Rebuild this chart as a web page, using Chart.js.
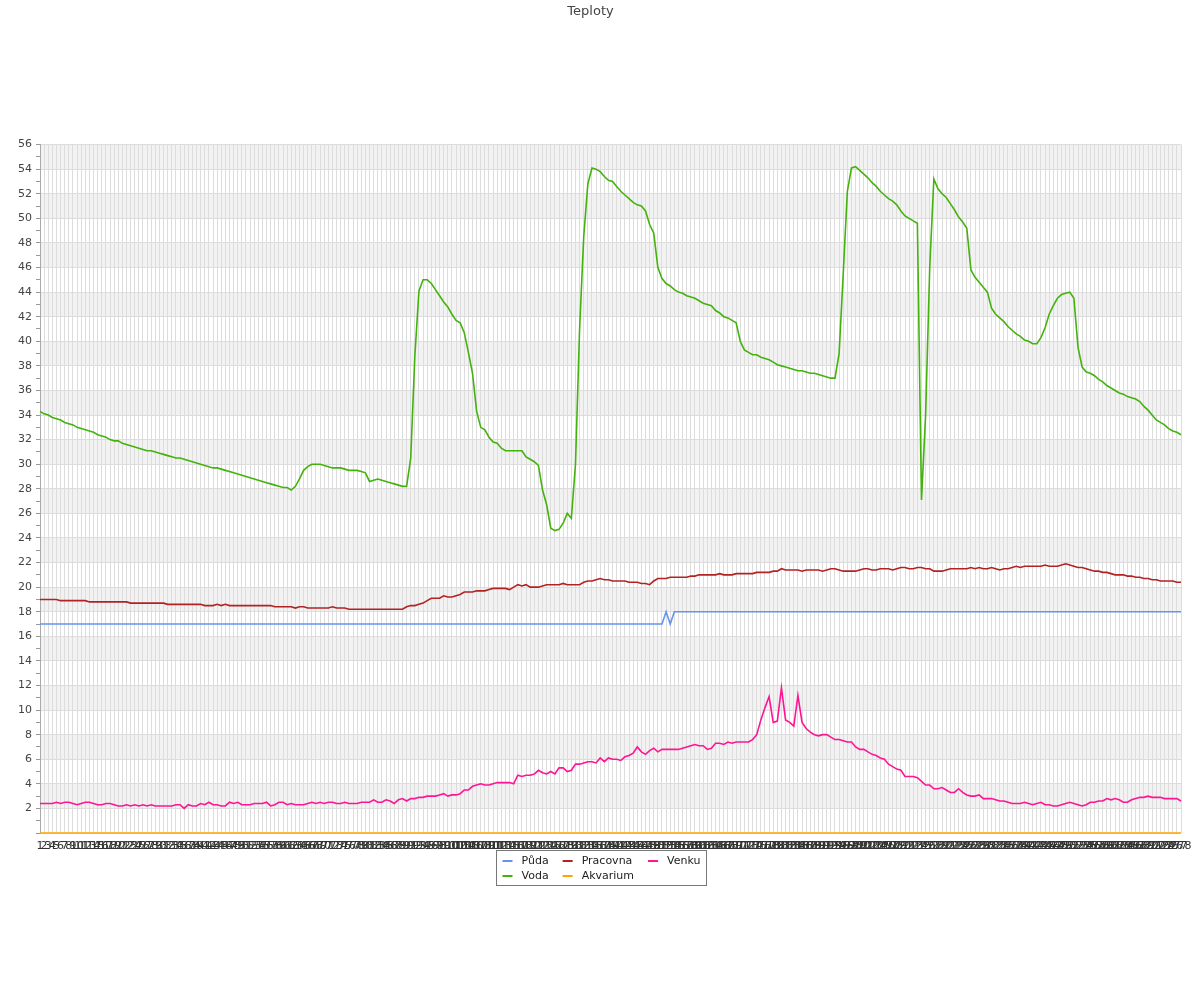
<!DOCTYPE html>
<html><head><meta charset="utf-8">
<script src="https://cdn.jsdelivr.net/npm/chart.js@4.4.1/dist/chart.umd.min.js"></script>
<style>html,body{margin:0;padding:0;background:#fff}#wrap{width:1200px;height:1000px;position:relative}</style>
</head><body><div id="wrap"><canvas id="c"></canvas></div>
<script>
const labels = [
1,2,3,4,5,6,7,8,9,10,11,12,13,14,15,16,17,18,19,20,
21,22,23,24,25,26,27,28,29,30,31,32,33,34,35,36,37,38,39,40,
41,42,43,44,45,46,47,48,49,50,51,52,53,54,55,56,57,58,59,60,
61,62,63,64,65,66,67,68,69,70,71,72,73,74,75,76,77,78,79,80,
81,82,83,84,85,86,87,88,89,90,91,92,93,94,95,96,97,98,99,100,
101,102,103,104,105,106,107,108,109,110,111,112,113,114,115,116,117,118,119,120,
121,122,123,124,125,126,127,128,129,130,131,132,133,134,135,136,137,138,139,140,
141,142,143,144,145,146,147,148,149,150,151,152,153,154,155,156,157,158,159,160,
161,162,163,164,165,166,167,168,169,170,171,172,173,174,175,176,177,178,179,180,
181,182,183,184,185,186,187,188,189,190,191,192,193,194,195,196,197,198,199,200,
201,202,203,204,205,206,207,208,209,210,211,212,213,214,215,216,217,218,219,220,
221,222,223,224,225,226,227,228,229,230,231,232,233,234,235,236,237,238,239,240,
241,242,243,244,245,246,247,248,249,250,251,252,253,254,255,256,257,258,259,260,
261,262,263,264,265,266,267,268,269,270,271,272,273,274,275,276,277,278];

const puda = [
17,17,17,17,17,17,17,17,17,17,17,17,17,17,17,17,17,17,17,17,
17,17,17,17,17,17,17,17,17,17,17,17,17,17,17,17,17,17,17,17,
17,17,17,17,17,17,17,17,17,17,17,17,17,17,17,17,17,17,17,17,
17,17,17,17,17,17,17,17,17,17,17,17,17,17,17,17,17,17,17,17,
17,17,17,17,17,17,17,17,17,17,17,17,17,17,17,17,17,17,17,17,
17,17,17,17,17,17,17,17,17,17,17,17,17,17,17,17,17,17,17,17,
17,17,17,17,17,17,17,17,17,17,17,17,17,17,17,17,17,17,17,17,
17,17,17,17,17,17,17,17,17,17,17,17,18,17,18,18,18,18,18,18,
18,18,18,18,18,18,18,18,18,18,18,18,18,18,18,18,18,18,18,18,
18,18,18,18,18,18,18,18,18,18,18,18,18,18,18,18,18,18,18,18,
18,18,18,18,18,18,18,18,18,18,18,18,18,18,18,18,18,18,18,18,
18,18,18,18,18,18,18,18,18,18,18,18,18,18,18,18,18,18,18,18,
18,18,18,18,18,18,18,18,18,18,18,18,18,18,18,18,18,18,18,18,
18,18,18,18,18,18,18,18,18,18,18,18,18,18,18,18,18,18];

const voda = [
34.3,34.1,34.0,33.8,33.7,33.6,33.4,33.3,33.2,33.0,
32.9,32.8,32.7,32.6,32.4,32.3,32.2,32.0,31.9,31.9,
31.7,31.6,31.5,31.4,31.3,31.2,31.1,31.1,31.0,30.9,
30.8,30.7,30.6,30.5,30.5,30.4,30.3,30.2,30.1,30.0,
29.9,29.8,29.7,29.7,29.6,29.5,29.4,29.3,29.2,29.1,
29.0,28.9,28.8,28.7,28.6,28.5,28.4,28.3,28.2,28.1,
28.1,27.9,28.2,28.8,29.5,29.8,30.0,30.0,30.0,29.9,
29.8,29.7,29.7,29.7,29.6,29.5,29.5,29.5,29.4,29.3,
28.6,28.7,28.8,28.7,28.6,28.5,28.4,28.3,28.2,28.2,
30.5,38.8,44.1,45.0,45.0,44.7,44.2,43.7,43.2,42.8,
42.2,41.7,41.5,40.7,39.1,37.4,34.3,33.0,32.8,32.2,
31.8,31.7,31.3,31.1,31.1,31.1,31.1,31.1,30.6,30.4,
30.2,29.9,27.9,26.7,24.8,24.6,24.7,25.2,26.0,25.6,
30.0,41.0,48.5,52.8,54.1,54.0,53.8,53.4,53.1,53.0,
52.6,52.2,51.9,51.6,51.3,51.1,51.0,50.6,49.5,48.8,
46.0,45.1,44.7,44.5,44.2,44.0,43.9,43.7,43.6,43.5,
43.3,43.1,43.0,42.9,42.5,42.3,42.0,41.9,41.7,41.5,
40.0,39.3,39.1,38.9,38.9,38.7,38.6,38.5,38.3,38.1,
38.0,37.9,37.8,37.7,37.6,37.6,37.5,37.4,37.4,37.3,
37.2,37.1,37.0,37.0,39.0,45.5,52.2,54.1,54.2,53.9,
53.6,53.3,52.9,52.6,52.2,51.9,51.6,51.4,51.1,50.6,
50.2,50.0,49.8,49.6,27.1,34.0,46.0,53.2,52.4,52.0,
51.7,51.2,50.7,50.1,49.7,49.2,45.8,45.2,44.8,44.4,
44.0,42.7,42.2,41.9,41.6,41.2,40.9,40.6,40.4,40.1,
40.0,39.8,39.8,40.3,41.1,42.2,42.9,43.5,43.8,43.9,
44.0,43.5,39.5,37.9,37.5,37.4,37.2,36.9,36.7,36.4,
36.2,36.0,35.8,35.7,35.5,35.4,35.3,35.1,34.7,34.4,
34.0,33.6,33.4,33.2,32.9,32.7,32.6,32.4];

const pracovna = [
19.0,19.0,19.0,19.0,19.0,18.9,18.9,18.9,18.9,18.9,
18.9,18.9,18.8,18.8,18.8,18.8,18.8,18.8,18.8,18.8,
18.8,18.8,18.7,18.7,18.7,18.7,18.7,18.7,18.7,18.7,
18.7,18.6,18.6,18.6,18.6,18.6,18.6,18.6,18.6,18.6,
18.5,18.5,18.5,18.6,18.5,18.6,18.5,18.5,18.5,18.5,
18.5,18.5,18.5,18.5,18.5,18.5,18.5,18.4,18.4,18.4,
18.4,18.4,18.3,18.4,18.4,18.3,18.3,18.3,18.3,18.3,
18.3,18.4,18.3,18.3,18.3,18.2,18.2,18.2,18.2,18.2,
18.2,18.2,18.2,18.2,18.2,18.2,18.2,18.2,18.2,18.4,
18.5,18.5,18.6,18.7,18.9,19.1,19.1,19.1,19.3,19.2,
19.2,19.3,19.4,19.6,19.6,19.6,19.7,19.7,19.7,19.8,
19.9,19.9,19.9,19.9,19.8,20.0,20.2,20.1,20.2,20.0,
20.0,20.0,20.1,20.2,20.2,20.2,20.2,20.3,20.2,20.2,
20.2,20.2,20.4,20.5,20.5,20.6,20.7,20.6,20.6,20.5,
20.5,20.5,20.5,20.4,20.4,20.4,20.3,20.3,20.2,20.5,
20.7,20.7,20.7,20.8,20.8,20.8,20.8,20.8,20.9,20.9,
21.0,21.0,21.0,21.0,21.0,21.1,21.0,21.0,21.0,21.1,
21.1,21.1,21.1,21.1,21.2,21.2,21.2,21.2,21.3,21.3,
21.5,21.4,21.4,21.4,21.4,21.3,21.4,21.4,21.4,21.4,
21.3,21.4,21.5,21.5,21.4,21.3,21.3,21.3,21.3,21.4,
21.5,21.5,21.4,21.4,21.5,21.5,21.5,21.4,21.5,21.6,
21.6,21.5,21.5,21.6,21.6,21.5,21.5,21.3,21.3,21.3,
21.4,21.5,21.5,21.5,21.5,21.5,21.6,21.5,21.6,21.5,
21.5,21.6,21.5,21.4,21.5,21.5,21.6,21.7,21.6,21.7,
21.7,21.7,21.7,21.7,21.8,21.7,21.7,21.7,21.8,21.9,
21.8,21.7,21.6,21.6,21.5,21.4,21.3,21.3,21.2,21.2,
21.1,21.0,21.0,21.0,20.9,20.9,20.8,20.8,20.7,20.7,
20.6,20.6,20.5,20.5,20.5,20.5,20.4,20.4];

const akvarium = [
0,0,0,0,0,0,0,0,0,0,0,0,0,0,0,0,0,0,0,0,
0,0,0,0,0,0,0,0,0,0,0,0,0,0,0,0,0,0,0,0,
0,0,0,0,0,0,0,0,0,0,0,0,0,0,0,0,0,0,0,0,
0,0,0,0,0,0,0,0,0,0,0,0,0,0,0,0,0,0,0,0,
0,0,0,0,0,0,0,0,0,0,0,0,0,0,0,0,0,0,0,0,
0,0,0,0,0,0,0,0,0,0,0,0,0,0,0,0,0,0,0,0,
0,0,0,0,0,0,0,0,0,0,0,0,0,0,0,0,0,0,0,0,
0,0,0,0,0,0,0,0,0,0,0,0,0,0,0,0,0,0,0,0,
0,0,0,0,0,0,0,0,0,0,0,0,0,0,0,0,0,0,0,0,
0,0,0,0,0,0,0,0,0,0,0,0,0,0,0,0,0,0,0,0,
0,0,0,0,0,0,0,0,0,0,0,0,0,0,0,0,0,0,0,0,
0,0,0,0,0,0,0,0,0,0,0,0,0,0,0,0,0,0,0,0,
0,0,0,0,0,0,0,0,0,0,0,0,0,0,0,0,0,0,0,0,
0,0,0,0,0,0,0,0,0,0,0,0,0,0,0,0,0,0];

const venku = [
2.4,2.4,2.4,2.4,2.5,2.4,2.5,2.5,2.4,2.3,
2.4,2.5,2.5,2.4,2.3,2.3,2.4,2.4,2.3,2.2,
2.2,2.3,2.2,2.3,2.2,2.3,2.2,2.3,2.2,2.2,
2.2,2.2,2.2,2.3,2.3,2.0,2.3,2.2,2.2,2.4,
2.3,2.5,2.3,2.3,2.2,2.2,2.5,2.4,2.5,2.3,
2.3,2.3,2.4,2.4,2.4,2.5,2.2,2.3,2.5,2.5,
2.3,2.4,2.3,2.3,2.3,2.4,2.5,2.4,2.5,2.4,
2.5,2.5,2.4,2.4,2.5,2.4,2.4,2.4,2.5,2.5,
2.5,2.7,2.5,2.5,2.7,2.6,2.4,2.7,2.8,2.6,
2.8,2.8,2.9,2.9,3.0,3.0,3.0,3.1,3.2,3.0,
3.1,3.1,3.2,3.5,3.5,3.8,3.9,4.0,3.9,3.9,
4.0,4.1,4.1,4.1,4.1,4.0,4.7,4.6,4.7,4.7,
4.8,5.1,4.9,4.8,5.0,4.8,5.3,5.3,5.0,5.1,
5.6,5.6,5.7,5.8,5.8,5.7,6.1,5.8,6.1,6.0,
6.0,5.9,6.2,6.3,6.5,7.0,6.6,6.4,6.7,6.9,
6.6,6.8,6.8,6.8,6.8,6.8,6.9,7.0,7.1,7.2,
7.1,7.1,6.8,6.9,7.3,7.3,7.2,7.4,7.3,7.4,
7.4,7.4,7.4,7.6,8.0,9.2,10.2,11.1,9.0,9.1,
11.8,9.2,9.0,8.7,11.2,9.0,8.5,8.2,8.0,7.9,
8.0,8.0,7.8,7.6,7.6,7.5,7.4,7.4,7.0,6.8,
6.8,6.6,6.4,6.3,6.1,6.0,5.6,5.4,5.2,5.1,
4.6,4.6,4.6,4.5,4.2,3.9,3.9,3.6,3.6,3.7,
3.5,3.3,3.3,3.6,3.3,3.1,3.0,3.0,3.1,2.8,
2.8,2.8,2.7,2.6,2.6,2.5,2.4,2.4,2.4,2.5,
2.4,2.3,2.4,2.5,2.3,2.3,2.2,2.2,2.3,2.4,
2.5,2.4,2.3,2.2,2.3,2.5,2.5,2.6,2.6,2.8,
2.7,2.8,2.7,2.5,2.5,2.7,2.8,2.9,2.9,3.0,
2.9,2.9,2.9,2.8,2.8,2.8,2.8,2.6];

const seriesNames = ['Půda', 'Voda', 'Pracovna', 'Akvarium', 'Venku'];
const seriesData = [puda, voda, pracovna, akvarium, venku];
const seriesColors = ['#6495ed', '#44b20c', '#b22222', '#ffa500', '#ff1493'];
const yTickLabels = [2,4,6,8,10,12,14,16,18,20,22,24,26,28,30,32,34,36,38,40,42,44,46,48,50,52,54,56];

Chart.defaults.font.family = '"DejaVu Sans", sans-serif';

const bandPlugin = {
  id: 'bands',
  beforeDraw(chart) {
    const { ctx, chartArea: a, scales: { y } } = chart;
    ctx.save();
    ctx.fillStyle = '#f2f2f2';
    for (let v = 2; v < 56; v += 4) {
      const t = y.getPixelForValue(v + 2), b = y.getPixelForValue(v);
      ctx.fillRect(a.left, t, a.right - a.left, b - t);
    }
    ctx.restore();
  }
};

const legendPlugin = {
  id: 'boxLegend',
  afterDraw(chart) {
    const ctx = chart.ctx;
    const ds = chart.data.datasets;
    ctx.save();
    ctx.font = '11px "DejaVu Sans"';
    const cols = [[0, 1], [2, 3], [4]];
    const colW = cols.map(c => 19 + Math.max(...c.map(i => ctx.measureText(ds[i].label).width)));
    const gap = 14, pad = 6;
    const totalW = pad * 2 + colW.reduce((s, w) => s + w, 0) + gap * (cols.length - 1);
    const left = Math.round(600.5 - totalW / 2) + 0.5;
    const top = 850.5, h = 35;
    ctx.strokeStyle = '#777';
    ctx.lineWidth = 1;
    ctx.strokeRect(left, top, Math.round(totalW), h);
    let x = left + pad;
    cols.forEach((c, ci) => {
      c.forEach((i, ri) => {
        const yy = Math.round(top + 10 + ri * 15.5);
        ctx.strokeStyle = ds[i].borderColor;
        ctx.lineWidth = 2;
        ctx.beginPath();
        ctx.moveTo(x, yy); ctx.lineTo(x + 10, yy);
        ctx.stroke();
        ctx.fillStyle = '#222';
        ctx.textBaseline = 'middle';
        ctx.textAlign = 'left';
        ctx.fillText(ds[i].label, x + 19, yy);
      });
      x += colW[ci] + gap;
    });
    ctx.restore();
  }
};

new Chart(document.getElementById('c'), {
  type: 'line',
  data: {
    labels: labels,
    datasets: seriesNames.map((n, k) => ({
      label: n,
      data: seriesData[k],
      borderColor: seriesColors[k],
      backgroundColor: seriesColors[k],
      borderWidth: 1.6,
      pointRadius: 0,
      tension: 0,
      fill: false,
      clip: 4
    }))
  },
  options: {
    responsive: true,
    maintainAspectRatio: false,
    animation: false,
    layout: { padding: { left: 0, right: 19, top: 0, bottom: 137 } },
    plugins: {
      legend: { display: false },
      tooltip: { enabled: false },
      title: {
        display: true, text: 'Teploty', color: '#444',
        font: { size: 13, weight: 'normal' },
        padding: { top: 4, bottom: 125 }
      }
    },
    scales: {
      x: {
        grid: { color: '#dddddd', drawTicks: false },
        border: { display: false },
        ticks: { autoSkip: false, maxRotation: 0, minRotation: 0, color: '#333', font: { size: 11 }, padding: 7 },
        afterFit(s) { s.height = 30; }
      },
      y: {
        min: 0, max: 56,
        grid: {
          color: c => (c.tick && c.tick.value % 2 === 0) ? '#dcdcdc' : 'rgba(0,0,0,0)',
          tickColor: '#999', tickLength: 4
        },
        border: { color: '#aaa' },
        ticks: {
          stepSize: 1, autoSkip: false, maxTicksLimit: 100, color: '#444', font: { size: 11 }, padding: 4,
          callback: v => yTickLabels.includes(v) ? String(v) : ''
        },
        afterFit(s) { s.width = 40; }
      }
    }
  },
  plugins: [bandPlugin, legendPlugin]
});
</script>
</body></html>
